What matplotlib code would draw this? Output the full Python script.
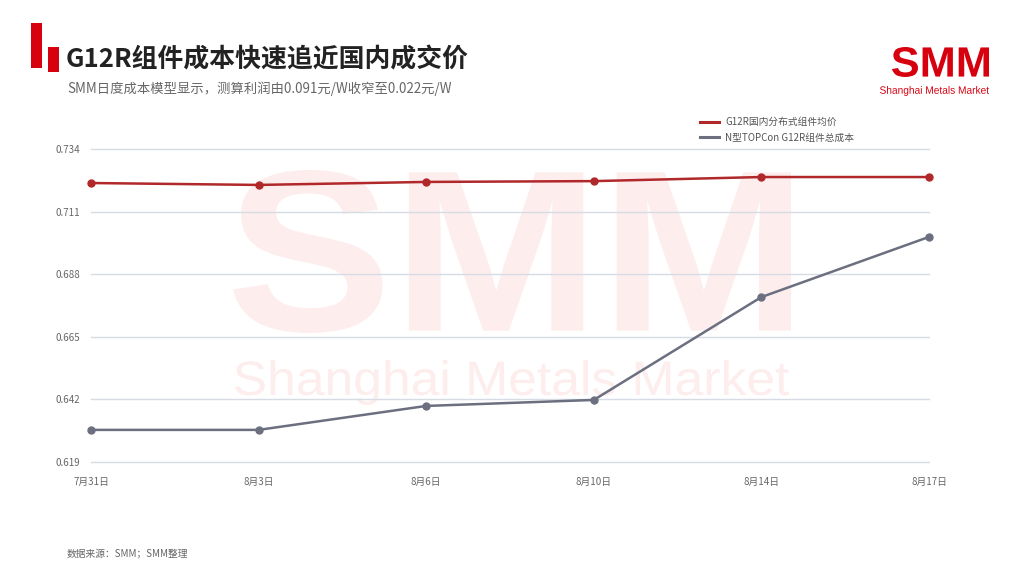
import matplotlib
matplotlib.use('Agg')
import matplotlib.pyplot as plt
from matplotlib.patches import Rectangle, PathPatch
from matplotlib.textpath import TextPath
from matplotlib.font_manager import FontProperties
from matplotlib.transforms import Affine2D
from matplotlib.lines import Line2D

plt.rcParams['font.family'] = ['Noto Sans CJK SC', 'DejaVu Sans']

dates = ['7月31日', '8月3日', '8月6日', '8月10日', '8月14日', '8月17日']
price_g12r = [0.7215, 0.7208, 0.7219, 0.7222, 0.7237, 0.7237]
cost_topcon = [0.6308, 0.6308, 0.6396, 0.6418, 0.6796, 0.7017]
yticks = [0.619, 0.642, 0.665, 0.688, 0.711, 0.734]
labels = ['G12R国内分布式组件均价', 'N型TOPCon G12R组件总成本']

red = '#b0282a'
gray = '#6b6f7f'
brand = '#d7000f'
wm = '#fdeded'


def boxed_text(axis, s, box, color, weight='normal'):
    # squeeze a text outline into a pixel box (left, top, right, bottom)
    tp = TextPath((0, 0), s, size=1, prop=FontProperties(family='Liberation Sans', weight=weight))
    ext = tp.get_extents()
    l, t, r, b = box
    tr = Affine2D().translate(-ext.x0, -ext.y0).scale((r - l) / ext.width, -(b - t) / ext.height)
    tr = tr.translate(l, b)
    axis.add_patch(PathPatch(tr.transform_path(tp), color=color, lw=0))


fig = plt.figure(figsize=(10.24, 5.76), dpi=100)
fig.patch.set_facecolor('white')

# background layer: watermark and logo
bg = fig.add_axes([0, 0, 1, 1], zorder=-1)
bg.set_xlim(0, 1024)
bg.set_ylim(576, 0)
bg.axis('off')
boxed_text(bg, 'SMM', (233, 170, 791, 333), wm, 'bold')
boxed_text(bg, 'Shanghai Metals Market', (235, 360, 789, 405), wm)
boxed_text(bg, 'SMM', (892, 47, 989, 77), brand, 'bold')
boxed_text(bg, 'Shanghai Metals Market', (880, 86, 989, 96), brand)
bg.add_patch(Rectangle((31, 23), 11, 45, color=brand, lw=0))
bg.add_patch(Rectangle((48, 47), 11, 25, color=brand, lw=0))

ax = fig.add_axes([91/1024, 1 - 462/576, (929 - 91)/1024, (462 - 149)/576], zorder=1)
ax.patch.set_alpha(0)
x = list(range(len(dates)))
ax.plot(x, price_g12r, color=red, lw=1.8, marker='o', ms=5, clip_on=False, zorder=3)
ax.plot(x, cost_topcon, color=gray, lw=1.8, marker='o', ms=5, clip_on=False, zorder=3)
ax.set_xlim(0, len(dates) - 1)
ax.set_ylim(yticks[0], yticks[-1])
ax.set_yticks(yticks)
ax.set_yticklabels(['%.3f' % v for v in yticks])
ax.set_xticks(x)
ax.set_xticklabels(dates)
ax.grid(axis='y', color='#d6dbe4', lw=1)
for gl in ax.get_ygridlines():
    gl.set_clip_on(False)
for s in ax.spines.values():
    s.set_visible(False)
ax.tick_params(length=0, labelsize=7, labelcolor='#666666')
ax.tick_params(axis='y', pad=8)
ax.tick_params(axis='x', pad=11)

handles = [Line2D([], [], color=red, lw=2.2), Line2D([], [], color=gray, lw=2.2)]
leg = fig.legend(handles, labels, loc='upper left', bbox_to_anchor=(0.675, 0.812), frameon=False,
                 fontsize=7, handlelength=2.0, labelspacing=0.55, handletextpad=0.6)
for t in leg.get_texts():
    t.set_color('#555555')

fig.text(66/1024, 1 - 60/576, 'G12R组件成本快速追近国内成交价', fontsize=18.6, fontweight='bold',
         color='#222222', va='center')
fig.text(67/1024, 1 - 89/576, 'SMM日度成本模型显示，测算利润由0.091元/W收窄至0.022元/W',
         fontsize=9.6, color='#666666', va='center')
fig.text(67/1024, 1 - 553/576, '数据来源：SMM；SMM整理', fontsize=7, color='#666666', va='center')

fig.savefig('out.png', dpi=100)
